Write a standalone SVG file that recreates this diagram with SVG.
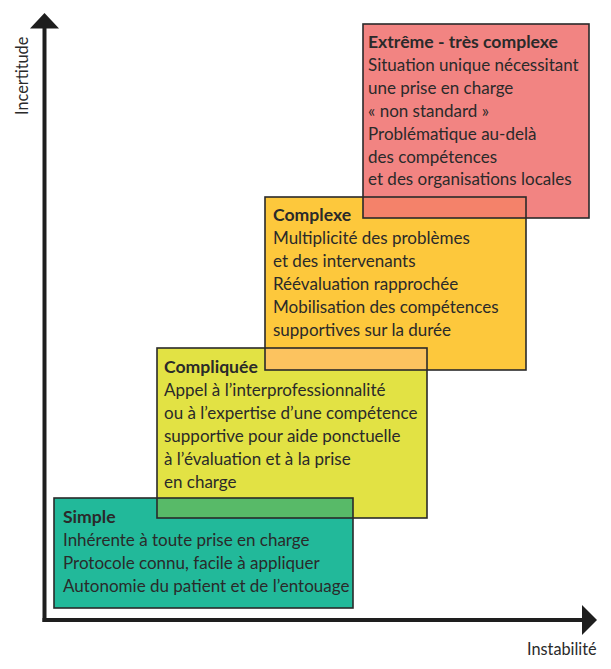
<svg xmlns="http://www.w3.org/2000/svg" width="611" height="669" viewBox="0 0 611 669">
<style>
text{font-family:Lato,"Liberation Sans",sans-serif;font-size:17px;fill:#2a2a2a}
.t{font-weight:bold;font-size:17.6px}
.b{fill:none;stroke:#2a2a2a;stroke-width:1.6}
.ax{stroke:#1e1e1e;stroke-width:4;fill:none}
.ah{fill:#1e1e1e}
.lab{font-size:16.3px}
</style>
<rect width="611" height="669" fill="#ffffff"/>
<g id="axes">
<line class="ax" x1="44.5" y1="622" x2="44.5" y2="27"/>
<polygon class="ah" points="44.5,13 30,28.5 59,28.5"/>
<line class="ax" x1="42.5" y1="620" x2="584" y2="620"/>
<polygon class="ah" points="597,620 582,605 582,635"/>
<text class="lab" transform="translate(28,115) rotate(-90)">Incertitude</text>
<text class="lab" x="527" y="655">Instabilité</text>
</g>
<g id="fills">
<rect x="363" y="24" width="226" height="194" fill="#F28482"/>
<rect x="265" y="197" width="261" height="173" fill="#FDC83C"/>
<rect x="157" y="348" width="270" height="170" fill="#E2E244"/>
<rect x="54" y="498" width="299" height="110" fill="#22B99A"/>
<rect x="363" y="197" width="163" height="21" fill="#F4826A"/>
<rect x="265" y="348" width="162" height="22" fill="#FCC35F"/>
<rect x="157" y="498" width="196" height="20" fill="#58BA68"/>
</g>
<g id="node-extreme">
<rect class="b" x="363" y="24" width="226" height="194"/>
<text class="t" x="368" y="48">Extrême - très complexe</text>
<text x="368" y="70.9">Situation unique nécessitant</text>
<text x="368" y="93.8">une prise en charge</text>
<text x="368" y="116.7">« non standard »</text>
<text x="368" y="139.6">Problématique au-delà</text>
<text x="368" y="162.5">des compétences</text>
<text x="368" y="185.4">et des organisations locales</text>
</g>
<g id="node-complexe">
<rect class="b" x="265" y="197" width="261" height="173"/>
<text class="t" x="273" y="220.5">Complexe</text>
<text x="273" y="243.5">Multiplicité des problèmes</text>
<text x="273" y="266.5">et des intervenants</text>
<text x="273" y="289.5">Réévaluation rapprochée</text>
<text x="273" y="312.5">Mobilisation des compétences</text>
<text x="273" y="335.5">supportives sur la durée</text>
</g>
<g id="node-compliquee">
<rect class="b" x="157" y="348" width="270" height="170"/>
<text class="t" x="164" y="372.5">Compliquée</text>
<text x="164" y="395.5">Appel à l’interprofessionnalité</text>
<text x="164" y="418.5">ou à l’expertise d’une compétence</text>
<text x="164" y="441.5">supportive pour aide ponctuelle</text>
<text x="164" y="464.5">à l’évaluation et à la prise</text>
<text x="164" y="487.5">en charge</text>
</g>
<g id="node-simple">
<rect class="b" x="54" y="498" width="299" height="110"/>
<text class="t" x="63" y="522.5">Simple</text>
<text x="63" y="545.5">Inhérente à toute prise en charge</text>
<text x="63" y="568.5">Protocole connu, facile à appliquer</text>
<text x="63" y="591.5">Autonomie du patient et de l’entouage</text>
</g>
</svg>
